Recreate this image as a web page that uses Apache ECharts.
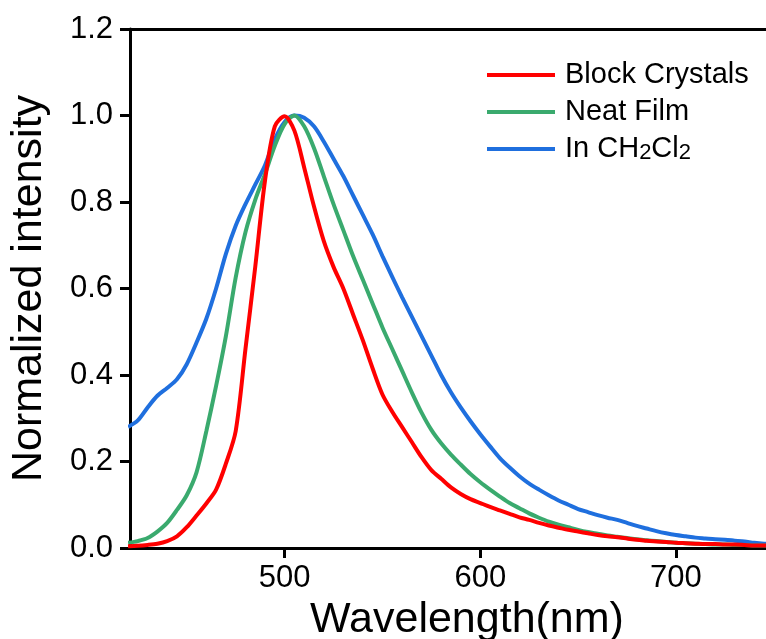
<!DOCTYPE html>
<html>
<head>
<meta charset="utf-8">
<script src="https://cdn.jsdelivr.net/npm/echarts@6/dist/echarts.min.js"></script>
<style>
  html, body { margin: 0; padding: 0; background: #fff; }
  #main { width: 766px; height: 639px; }
</style>
</head>
<body>
<div id="main"></div>
<script>
// wavelength (nm), 5 nm steps
var wavelengths = [];
for (var w = 420; w <= 750; w += 5) wavelengths.push(w);

var blockCrystals = [
  0.004, 0.005, 0.007, 0.010, 0.016, 0.027, 0.048, 0.075, 0.103, 0.135,
  0.195, 0.270, 0.460, 0.650, 0.850, 0.975, 0.998, 0.965, 0.880, 0.790,
  0.710, 0.650, 0.600, 0.540, 0.480, 0.415, 0.355, 0.315, 0.280, 0.245,
  0.210, 0.180, 0.160, 0.140, 0.125, 0.113, 0.104, 0.095, 0.087, 0.079,
  0.071, 0.065, 0.058, 0.052, 0.047, 0.042, 0.038, 0.034, 0.030, 0.027,
  0.025, 0.022, 0.019, 0.017, 0.015, 0.014, 0.012, 0.011, 0.010, 0.009,
  0.009, 0.008, 0.008, 0.007, 0.006, 0.006, 0.005
];
var neatFilm = [
  0.012, 0.016, 0.023, 0.038, 0.058, 0.088, 0.122, 0.175, 0.270, 0.375,
  0.490, 0.625, 0.730, 0.805, 0.865, 0.930, 0.980, 1.000, 0.975, 0.925,
  0.860, 0.795, 0.735, 0.675, 0.620, 0.565, 0.510, 0.460, 0.410, 0.360,
  0.313, 0.273, 0.242, 0.216, 0.193, 0.171, 0.152, 0.135, 0.119, 0.104,
  0.092, 0.080, 0.070, 0.061, 0.054, 0.048, 0.042, 0.037, 0.033, 0.029,
  0.026, 0.023, 0.020, 0.018, 0.016, 0.014, 0.012, 0.011, 0.010, 0.009,
  0.008, 0.008, 0.007, 0.007, 0.006, 0.006, 0.005
];
var inCH2Cl2 = [
  0.280, 0.295, 0.325, 0.352, 0.370, 0.390, 0.425, 0.475, 0.530, 0.600,
  0.680, 0.745, 0.795, 0.840, 0.885, 0.945, 0.985, 1.000, 0.995, 0.975,
  0.940, 0.900, 0.860, 0.815, 0.770, 0.725, 0.675, 0.627, 0.580, 0.535,
  0.490, 0.445, 0.400, 0.360, 0.325, 0.293, 0.263, 0.235, 0.208, 0.186,
  0.166, 0.149, 0.135, 0.122, 0.110, 0.100, 0.090, 0.083, 0.076, 0.070,
  0.065, 0.058, 0.051, 0.045, 0.039, 0.034, 0.030, 0.027, 0.024, 0.022,
  0.020, 0.019, 0.017, 0.015, 0.012, 0.010, 0.009
];

var xTicks = [500, 600, 700];
var seriesNames = ["Block Crystals", "Neat Film", "In CH2Cl2"];
var seriesColors = ["#ff0000", "#3aaa6e", "#1f6fde"];

function pairs(ys) {
  var out = [];
  for (var i = 0; i < wavelengths.length; i++) out.push([wavelengths[i], ys[i]]);
  return out;
}

var chart = echarts.init(document.getElementById("main"));
var font = "Liberation Sans, Arial, sans-serif";

var option = {
  backgroundColor: "#fff",
  animation: false,
  grid: { left: 130, top: 29, right: 0, bottom: 91, outerBoundsMode: "none", containLabel: false },
  legend: {
    orient: "vertical",
    left: 487,
    top: 60,
    padding: 0,
    icon: "rect",
    itemWidth: 68,
    itemHeight: 4,
    itemGap: 7,
    textStyle: {
      fontFamily: font,
      fontSize: 29,
      lineHeight: 30,
      color: "#000",
      padding: [0, 0, 0, 5],
      rich: {
        a: { fontFamily: font, fontSize: 29, lineHeight: 30, color: "#000" },
        sub: { fontFamily: font, fontSize: 22, lineHeight: 12, verticalAlign: "bottom", color: "#000" }
      }
    },
    formatter: function (name) {
      if (name === "In CH2Cl2") return "{a|In CH}{sub|2}{a|Cl}{sub|2}";
      return name;
    },
    data: seriesNames
  },
  xAxis: [
    {
      type: "value",
      min: 421,
      max: 746,
      name: "Wavelength(nm)",
      nameLocation: "middle",
      nameGap: 43,
      nameTextStyle: { fontFamily: font, fontSize: 43, color: "#000", padding: [0, 0, 0, 38] },
      axisLine: { show: true, lineStyle: { color: "#000", width: 3 } },
      axisTick: { show: true, length: 10, lineStyle: { color: "#000", width: 3 }, customValues: xTicks },
      axisLabel: { fontFamily: font, fontSize: 31, color: "#000", margin: 15, customValues: xTicks },
      splitLine: { show: false }
    },
    {
      type: "value",
      position: "top",
      min: 421,
      max: 746,
      axisLine: { show: true, lineStyle: { color: "#000", width: 3 } },
      axisTick: { show: false },
      axisLabel: { show: false },
      splitLine: { show: false }
    }
  ],
  yAxis: {
    type: "value",
    min: 0,
    max: 1.2,
    interval: 0.2,
    name: "Normalized intensity",
    nameLocation: "middle",
    nameGap: 79,
    nameTextStyle: { fontFamily: font, fontSize: 43, color: "#000" },
    axisLine: { show: true, lineStyle: { color: "#000", width: 3 } },
    axisTick: { show: true, length: 10, lineStyle: { color: "#000", width: 3 } },
    axisLabel: {
      fontFamily: font, fontSize: 31, color: "#000", margin: 17,
      formatter: function (v) { return v.toFixed(1); }
    },
    splitLine: { show: false }
  },
  series: [
    { name: seriesNames[0], type: "line", data: pairs(blockCrystals) },
    { name: seriesNames[1], type: "line", data: pairs(neatFilm) },
    { name: seriesNames[2], type: "line", data: pairs(inCH2Cl2) }
  ].map(function (s, i) {
    s.smooth = 0.3;
    s.showSymbol = false;
    s.symbol = "none";
    s.color = seriesColors[i];
    s.lineStyle = { width: 4, color: seriesColors[i] };
    s.z = 3 - i;
    return s;
  })
};

chart.setOption(option);
</script>
</body>
</html>
